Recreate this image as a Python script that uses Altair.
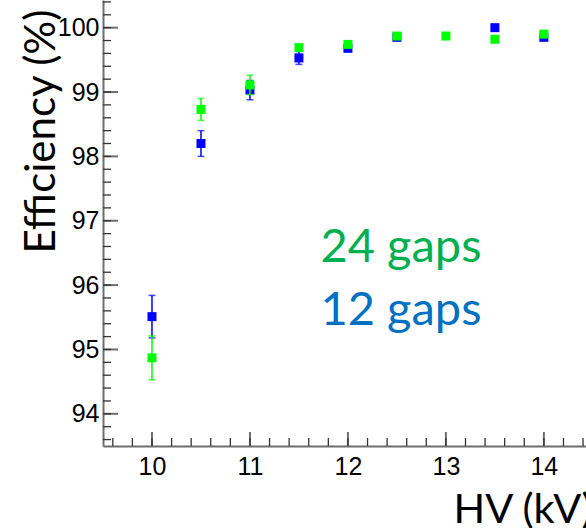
import altair as alt
import pandas as pd
import numpy as np

# ---- data ----
hv_24 = [10.0, 10.5, 11.0, 11.5, 12.0, 12.5, 13.0, 13.5, 14.0]
eff_24 = [94.87, 98.73, 99.11, 99.69, 99.74, 99.87, 99.87, 99.82, 99.90]
err_24 = [0.34, 0.17, 0.15, 0.05, 0.05, 0.03, 0.03, 0.04, 0.03]

hv_12 = [10.0, 10.5, 11.0, 11.5, 12.0, 12.5, 13.5, 14.0]
eff_12 = [95.51, 98.20, 99.03, 99.53, 99.68, 99.85, 100.0, 99.85]
err_12 = [0.33, 0.20, 0.15, 0.10, 0.05, 0.03, 0.03, 0.03]

series_names = ["12 gaps", "24 gaps"]
marker_colors = ["#0000ff", "#00ff00"]
label_colors = ["#0070c0", "#00b050"]
label_x = [11.72, 11.72]
label_y = [95.38, 96.36]

x_major = [10, 11, 12, 13, 14]
y_major = [94, 95, 96, 97, 98, 99, 100]
x_minor = [round(9.6 + 0.2 * i, 1) for i in range(25)]
y_minor = [round(93.6 + 0.2 * i, 1) for i in range(35)]

X_DOMAIN = [9.5, 14.43]
Y_DOMAIN = [93.5, 100.43]
W, H = 483, 446

rows = []
for name, xs, ys, es in [("12 gaps", hv_12, eff_12, err_12), ("24 gaps", hv_24, eff_24, err_24)]:
    for x, y, e in zip(xs, ys, es):
        rows.append({"series": name, "hv": x, "eff": y, "lo": y - e, "hi": y + e})
df = pd.DataFrame(rows)

xs = alt.Scale(domain=X_DOMAIN, nice=False, zero=False)
ys = alt.Scale(domain=Y_DOMAIN, nice=False, zero=False)
col = alt.Scale(domain=series_names, range=marker_colors)

axis_common = dict(ticks=False, domainColor="#6e6e6e", domainWidth=2,
                   labelFont="Liberation Sans", labelFontSize=25, labelColor="#000000",
                   grid=False)

base = alt.Chart(df)

points_layers = []
for name in series_names:
    sub = base.transform_filter(alt.datum.series == name)
    bar = sub.mark_rule(strokeWidth=1.5).encode(
        x=alt.X("hv:Q", scale=xs,
                axis=alt.Axis(values=x_major, title="HV (kV)", labelPadding=8,
                              titleFont="Lato", titleFontSize=41.5, titleFontWeight="normal",
                              titleColor="#000000", titleX=350, titleY=76,
                              titleAlign="left", titleBaseline="alphabetic",
                              format="d", **axis_common)),
        y=alt.Y("lo:Q", scale=ys,
                axis=alt.Axis(values=y_major, title="Efficiency (%)", labelPadding=4,
                              titleFont="Lato", titleFontSize=42, titleFontWeight="normal",
                              titleColor="#000000", titleX=-49, titleY=253,
                              titleAngle=-90, titleAlign="left", titleBaseline="alphabetic",
                              format="d", **axis_common)),
        y2="hi:Q",
        color=alt.Color("series:N", scale=col, legend=None),
    )
    cap_lo = sub.mark_tick(orient="horizontal", size=7, thickness=1.5).encode(
        x=alt.X("hv:Q", scale=xs), y=alt.Y("lo:Q", scale=ys),
        color=alt.Color("series:N", scale=col, legend=None))
    cap_hi = sub.mark_tick(orient="horizontal", size=7, thickness=1.5).encode(
        x=alt.X("hv:Q", scale=xs), y=alt.Y("hi:Q", scale=ys),
        color=alt.Color("series:N", scale=col, legend=None))
    sq = sub.mark_square(size=81, opacity=1, strokeWidth=1, strokeOpacity=0.4).encode(
        x=alt.X("hv:Q", scale=xs), y=alt.Y("eff:Q", scale=ys),
        color=alt.Color("series:N", scale=col, legend=None),
        fill=alt.Fill("series:N", scale=col, legend=None))
    points_layers += [bar, cap_lo, cap_hi, sq]

# inward axis ticks
ymaj_df = pd.DataFrame({"v": y_major})
ymin_df = pd.DataFrame({"v": y_minor})
xmaj_df = pd.DataFrame({"v": x_major})
xmin_df = pd.DataFrame({"v": x_minor})
tick_color = "#333333"
ytick_major = alt.Chart(ymaj_df).mark_rule(color="#6e6e6e", strokeWidth=2).encode(
    y=alt.Y("v:Q", scale=ys), x=alt.value(0), x2=alt.value(15))
ytick_minor = alt.Chart(ymin_df).mark_rule(color=tick_color, strokeWidth=1.3).encode(
    y=alt.Y("v:Q", scale=ys), x=alt.value(0), x2=alt.value(8))
xtick_major = alt.Chart(xmaj_df).mark_rule(color="#6e6e6e", strokeWidth=2).encode(
    x=alt.X("v:Q", scale=xs), y=alt.value(H), y2=alt.value(H - 14))
xtick_minor = alt.Chart(xmin_df).mark_rule(color=tick_color, strokeWidth=1.3).encode(
    x=alt.X("v:Q", scale=xs), y=alt.value(H), y2=alt.value(H - 8))

lab_df = pd.DataFrame({"series": series_names, "x": label_x, "y": label_y,
                       "c": label_colors})
labels = alt.Chart(lab_df).mark_text(font="Lato", fontSize=47, align="left",
                                     baseline="alphabetic").encode(
    x=alt.X("x:Q", scale=xs), y=alt.Y("y:Q", scale=ys),
    text="series:N", color=alt.Color("c:N", scale=None))

chart = alt.layer(*points_layers, ytick_major, ytick_minor, xtick_major, xtick_minor,
                  labels).properties(
    width=W, height=H,
    autosize=alt.AutoSizeParams(type="none"),
    padding={"left": 103, "top": 0, "right": 0, "bottom": 82},
    background="white",
).configure_view(stroke=None)

chart.save("out.html", embed_options={"renderer": "svg", "actions": False})
